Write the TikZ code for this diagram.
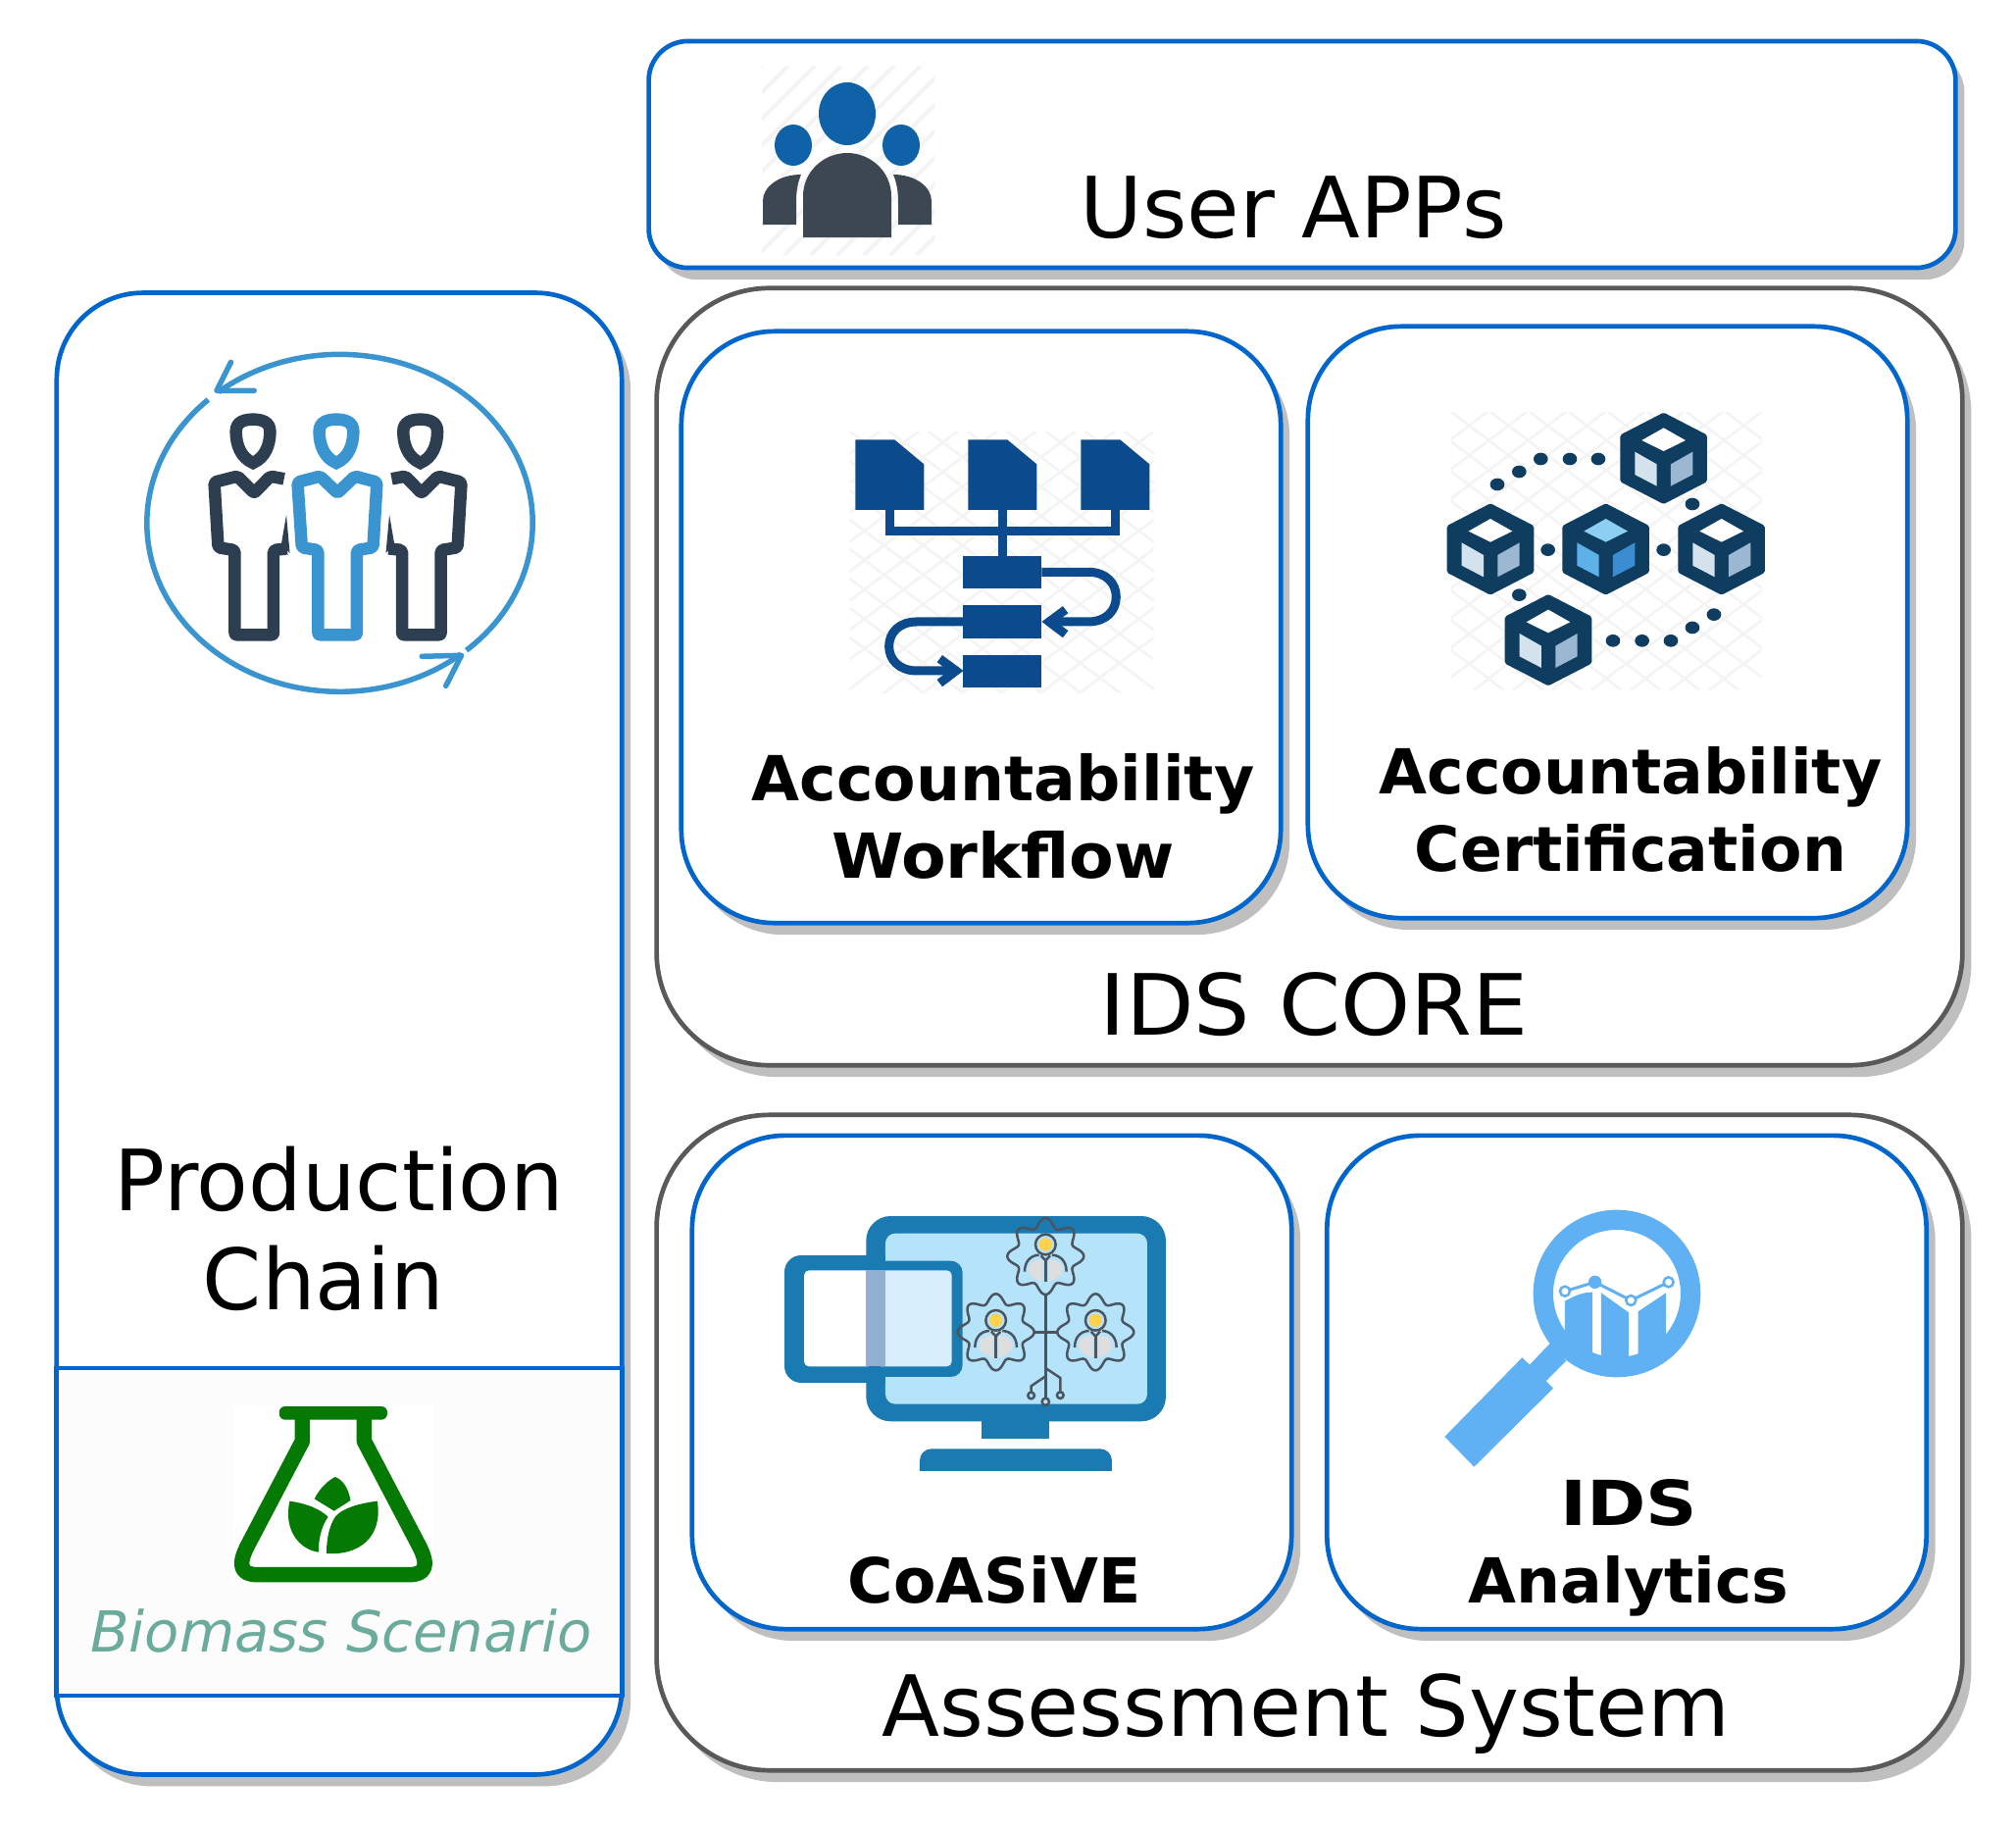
\documentclass[tikz,border=0pt]{standalone}
\usepackage{xcolor}
\usepackage{fontspec}
\setmainfont{DejaVu Sans}
\usepackage{tikz}
\usetikzlibrary{shadows}
\definecolor{boxblue}{HTML}{0066CC}
\definecolor{boxgray}{HTML}{595959}
\definecolor{shadowgray}{HTML}{BFBFBF}
\definecolor{panelwhite}{HTML}{FCFCFC}
\definecolor{scenariotext}{HTML}{6AAB9C}
\definecolor{persondark}{HTML}{2C3E50}
\definecolor{personblue}{HTML}{3A94D0}
\definecolor{flaskgreen}{HTML}{047A04}
\definecolor{userblue}{HTML}{0F62A8}
\definecolor{userdark}{HTML}{3D4752}
\definecolor{flowblue}{HTML}{0B4A8C}
\definecolor{cubedark}{HTML}{0F3D60}
\definecolor{cubepale}{HTML}{D3E2EC}
\definecolor{cubemid}{HTML}{9BB7D1}
\definecolor{cubesky}{HTML}{8CCFF3}
\definecolor{cubelight}{HTML}{5DB0E8}
\definecolor{cubedeep}{HTML}{3A8DD0}
\definecolor{screenblue}{HTML}{1A7AB2}
\definecolor{screenlight}{HTML}{B5E3FA}
\definecolor{windowpale}{HTML}{D8EEFC}
\definecolor{windowmid}{HTML}{92AFD2}
\definecolor{gearline}{HTML}{4A5560}
\definecolor{gearyellow}{HTML}{FFD24D}
\definecolor{geargray}{HTML}{DEDEDE}
\definecolor{lensblue}{HTML}{60B0F4}
\definecolor{hatchgray}{HTML}{F4F4F4}
\newcommand{\wider}[2]{{\addfontfeature{FakeStretch=#1}#2}}

\begin{document}
\begin{tikzpicture}[
  x=0.01cm, y=-0.01cm,
  bluebox/.style={draw=boxblue, line width=0.047cm, fill=white, inner sep=0pt,
                  drop shadow={shadow xshift=0.09cm, shadow yshift=-0.12cm, fill=shadowgray, opacity=1}},
  graybox/.style={bluebox, draw=boxgray},
  panel/.style={draw=boxblue, line width=0.047cm, fill=panelwhite, inner sep=0pt},
  bigtext/.style={anchor=base, inner sep=0pt, font=\fontsize{24.5}{28}\selectfont},
  boldtext/.style={anchor=base, inner sep=0pt, align=center, font=\fontsize{18}{22.4}\selectfont\bfseries},
  hatch/.style={draw=hatchgray, line width=0.025cm},
  personline/.style={line width=0.125cm, line join=round, rounded corners=0.02cm},
  flowline/.style={draw=flowblue, line width=0.09cm},
  gearstroke/.style={draw=gearline, line width=0.025cm},
]
\path[use as bounding box, fill=white] (0,0) rectangle (2056,1866);

\node[bluebox, rounded corners=0.4cm, minimum width=13.32cm, minimum height=2.31cm] (userbox) at (1328,157.5) {};
\node[graybox, rounded corners=1.15cm, minimum width=13.31cm, minimum height=7.92cm] (corebox) at (1335.5,690) {};
\node[bluebox, rounded corners=0.95cm, minimum width=6.11cm, minimum height=6.03cm] (workflowbox) at (1000.5,639.5) {};
\node[bluebox, rounded corners=0.95cm, minimum width=6.11cm, minimum height=6.03cm] (certbox) at (1639.5,634.5) {};
\node[graybox, rounded corners=1.15cm, minimum width=13.31cm, minimum height=6.68cm] (assessbox) at (1335.5,1471) {};
\node[bluebox, rounded corners=0.95cm, minimum width=6.11cm, minimum height=5.03cm] (coasivebox) at (1011.5,1409.5) {};
\node[bluebox, rounded corners=0.95cm, minimum width=6.11cm, minimum height=5.03cm] (analyticsbox) at (1659,1409.5) {};
\node[bluebox, rounded corners=0.88cm, minimum width=5.76cm, minimum height=15.1cm] (chainbox) at (346,1054) {};
\node[panel, minimum width=5.76cm, minimum height=3.34cm] (biomasspanel) at (346,1562) {};

\node[bigtext] (usertext) at (1319,242) {\wider{1.012}{User APPs}};
\node[bigtext] (coretext) at (1340,1055) {\wider{1.05}{IDS CORE}};
\node[bigtext] (assesstext) at (1332,1770) {Assessment System};
\node[bigtext] (chaintextA) at (346,1234) {Production};
\node[bigtext] (chaintextB) at (330,1335) {Chain};
\node[anchor=base, inner sep=0pt, text=scenariotext, font=\fontsize{16.4}{20}\selectfont\itshape] (biomasstext) at (348,1684) {Biomass Scenario};
\node[boldtext] (workflowtext) at (1023,895) {Accountability\\\wider{1.05}{Workflow}};
\node[boldtext] (certtext) at (1663,888) {Accountability\\Certification};
\node[boldtext] (coasivetext) at (1014,1634) {CoASiVE};
\node[boldtext] (analyticstext) at (1661,1634) {\wider{1.15}{IDS}\\Analytics};

\begin{scope}
  \clip (777,67) rectangle (953,260);
  \foreach \k in {0,...,13}
    \draw[hatch, line width=0.04cm] ({584+27*\k},260) -- ++(193,-193);
\end{scope}
\fill[userblue] (864,116) ellipse[x radius=29, y radius=32];
\fill[userblue] (809,148) ellipse[x radius=19, y radius=21];
\fill[userblue] (919,148) ellipse[x radius=19, y radius=21];
\fill[userdark] (819,242) -- (819,200) .. controls (819,175) and (840,156) .. (864,156)
  .. controls (888,156) and (909,175) .. (909,200) -- (909,242) -- cycle;
\fill[userdark] (778,229) -- (778,205) .. controls (778,190) and (795,178) .. (817,178)
  .. controls (812,190) and (812,200) .. (812,210) -- (812,229) -- cycle;
\fill[userdark] (950,229) -- (950,205) .. controls (950,190) and (933,178) .. (911,178)
  .. controls (916,190) and (916,200) .. (916,210) -- (916,229) -- cycle;

\begin{scope}[shift={(40,280)}, xscale=0.395, yscale=0.3333]
  \draw[personblue, line width=0.055cm] (776,760) ++(49:498 and 516) arc[start angle=49, end angle=-129, x radius=498, y radius=516];
  \draw[personblue, line width=0.055cm] (776,760) ++(51:498 and 516) arc[start angle=51, end angle=227, x radius=498, y radius=516];
  \draw[personblue, line width=0.055cm, line cap=round, line join=round] (495,268) -- (458,355) -- (555,355);
  \draw[personblue, line width=0.055cm, line cap=round, line join=round] (1050,1258) -- (1090,1165) -- (988,1168);
  \foreach \px/\pc in {0/persondark, 215/personblue, 432/persondark}
    \draw[\pc, line width=0.125cm] ({552+\px},576) .. controls ({520+\px},560) and ({508+\px},520) .. ({508+\px},480)
      .. controls ({508+\px},450) and ({530+\px},443) .. ({552+\px},443)
      .. controls ({574+\px},443) and ({596+\px},450) .. ({596+\px},480)
      .. controls ({596+\px},520) and ({584+\px},560) .. ({552+\px},576) -- cycle;
  \draw[persondark, personline] (632,625) -- (597,617) -- (555,668) -- (512,617) -- (452,635) -- (462,835) -- (505,843)
    -- (505,1102) -- (605,1102) -- (605,843) -- (640,838);
  \fill[persondark] (638,735) -- (647,852) -- (625,825) -- cycle;
  \draw[persondark, personline] (910,625) -- (945,617) -- (987,668) -- (1030,617) -- (1090,635) -- (1080,835) -- (1037,843)
    -- (1037,1102) -- (937,1102) -- (937,843) -- (902,838);
  \fill[persondark] (904,735) -- (895,852) -- (917,825) -- cycle;
  \draw[personblue, personline] (770,668) -- (725,617) -- (667,635) -- (678,835) -- (720,843) -- (720,1102)
    -- (820,1102) -- (820,843) -- (862,835) -- (872,635) -- (815,617) -- cycle;
\end{scope}

\begin{scope}[shift={(40,1370)}, xscale=0.408, yscale=0.3333]
  \fill[white] (483,190) rectangle (987,730);
  \fill[flaskgreen, rounded corners=0.06cm] (600,192) rectangle (870,233);
  \draw[flaskgreen, line width=0.155cm, line join=round] (658,225) -- (658,298) -- (520,620)
    .. controls (495,680) and (505,707) .. (545,707) -- (925,707)
    .. controls (965,707) and (975,680) .. (950,620) -- (812,298) -- (812,225);
  \fill[flaskgreen] (740,408) .. controls (765,420) and (775,455) .. (778,480) -- (737,512) -- (688,475)
    .. controls (700,445) and (720,420) .. (740,408) -- cycle;
  \fill[flaskgreen] (626,482) .. controls (670,490) and (700,505) .. (722,530)
    .. controls (705,560) and (698,600) .. (698,638) .. controls (650,630) and (610,570) .. (626,482) -- cycle;
  \fill[flaskgreen] (845,482) .. controls (790,490) and (745,510) .. (735,540)
    .. controls (722,570) and (718,610) .. (718,642) .. controls (800,650) and (860,590) .. (845,482) -- cycle;
\end{scope}

\begin{scope}[shift={(850,430)}, scale=0.3333]
  \begin{scope}
    \clip (50,30) rectangle (980,830);
    \foreach \k in {-7,...,8} {
      \draw[hatch] ({50+120*\k},30) -- ++(1080,810);
      \draw[hatch] ({980-120*\k},30) -- ++(-1080,810);
    }
  \end{scope}
  \foreach \dx in {0,345,690}
    \fill[flowblue] ({67+\dx},55) -- ({187+\dx},55) -- ({277+\dx},130) -- ({277+\dx},270) -- ({67+\dx},270) -- cycle;
  \draw[flowline] (172,270) -- (172,334) -- (862,334) -- (862,270);
  \draw[flowline] (517,270) -- (517,410);
  \foreach \vy in {410,562,713}
    \fill[flowblue] (397,\vy) rectangle (637,{\vy+100});
  \draw[flowline] (637,460) -- (780,460) .. controls (835,460) and (865,495) .. (865,536)
    .. controls (865,577) and (835,612) .. (780,612) -- (665,612);
  \draw[flowline] (710,575) -- (660,612) -- (710,650);
  \draw[flowline] (397,612) -- (255,612) .. controls (200,612) and (170,647) .. (170,687)
    .. controls (170,727) and (200,762) .. (255,762) -- (370,762);
  \draw[flowline] (325,725) -- (375,762) -- (325,800);
\end{scope}

\begin{scope}[shift={(1460,410)}, scale=0.3333]
  \begin{scope}
    \clip (60,30) rectangle (1010,880);
    \foreach \k in {-8,...,9} {
      \draw[hatch] ({60+120*\k},30) -- ++(1120,850);
      \draw[hatch] ({1010-120*\k},30) -- ++(-1120,850);
    }
  \end{scope}
  \foreach \dotx/\doty in {201/252, 268/213, 334/174, 423/174, 510/174, 798/312, 268/590, 356/452, 710/452, 864/650, 798/690, 732/730, 644/730, 555/730}
    \fill[cubedark] (\dotx,\doty) ellipse[x radius=22, y radius=19];
  \foreach \cx/\cy/\ctop/\cleft/\cright in {533/450/cubesky/cubelight/cubedeep, 180/450/white/cubepale/cubemid, 887/450/white/cubepale/cubemid, 710/172/white/cubepale/cubemid, 357/728/white/cubepale/cubemid} {
    \begin{scope}[shift={(\cx,\cy)}]
      \draw[cubedark, fill=cubedark, line width=0.06cm, line join=round] (0,-130) -- (124,-66) -- (124,66) -- (0,130) -- (-124,66) -- (-124,-66) -- cycle;
      \fill[\ctop] (0,-93) -- (67,-55) -- (0,-22) -- (-67,-55) -- cycle;
      \fill[\cleft] (-88,-20) -- (-21,18) -- (-21,85) -- (-88,50) -- cycle;
      \fill[\cright] (22,18) -- (89,-20) -- (89,50) -- (22,85) -- cycle;
    \end{scope}
  }
\end{scope}

\begin{scope}[shift={(780,1220)}, scale=0.3333]
  \fill[screenblue, rounded corners=0.25cm] (310,60) rectangle (1227,688);
  \fill[screenlight, rounded corners=0.1cm] (369,113) rectangle (1170,635);
  \fill[screenblue] (663,688) rectangle (870,740);
  \fill[screenblue] (474,840) [rounded corners=0.12cm] -- (474,772) -- (1062,772) [sharp corners] -- (1062,840) -- cycle;
  \fill[screenblue, rounded corners=0.12cm] (300,197) rectangle (605,552);
  \fill[screenblue, rounded corners=0.17cm] (60,180) rectangle (369,570);
  \fill[screenblue] (310,180) rectangle (369,570);
  \fill[white, rounded corners=0.05cm] (120,226) rectangle (330,520);
  \fill[windowpale, rounded corners=0.05cm] (340,226) rectangle (572,520);
  \fill[windowmid] (310,226) rectangle (369,520);
  \foreach \gx/\gy in {859/183, 707/415, 1012/415} {
    \begin{scope}[shift={(\gx,\gy)}]
      \draw[gearstroke] plot[domain=0:360, samples=145, smooth] ({(103+14*cos(8*\x))*cos(\x)},{(103+14*cos(8*\x))*sin(\x)}) -- cycle;
      \fill[geargray] (-9,10) .. controls (-35,12) and (-52,20) .. (-52,40) .. controls (-52,60) and (-30,72) .. (-9,78) -- cycle;
      \fill[geargray] (9,10) .. controls (35,12) and (52,20) .. (52,40) .. controls (52,60) and (30,72) .. (9,78) -- cycle;
      \draw[gearstroke] (-64,47) .. controls (-64,15) and (-45,-3) .. (-20,-4);
      \draw[gearstroke] (64,47) .. controls (64,15) and (45,-3) .. (20,-4);
      \draw[gearstroke] (-14,-2) -- (0,13) -- (14,-2);
      \draw[gearstroke] (0,13) -- (0,79);
      \draw[gearstroke] (0,-36) circle[radius=31];
      \fill[gearyellow] (0,-36) circle[radius=20];
    \end{scope}
  }
  \draw[gearstroke] (859,298) -- (859,616);
  \draw[gearstroke] (825,415) -- (893,415);
  \draw[gearstroke] (859,550) -- (815,580) -- (815,598);
  \draw[gearstroke] (859,525) -- (904,555) -- (904,597);
  \draw[gearstroke] (815,609) circle[radius=10];
  \draw[gearstroke] (904,608) circle[radius=10];
  \draw[gearstroke] (859,628) circle[radius=11];
\end{scope}

\begin{scope}[shift={(1450,1210)}, scale=0.3333]
  \fill[lensblue] (392,480) -- (330,545) -- (307,523) -- (70,765) -- (160,857) -- (402,617) -- (380,595) -- (442,533) -- cycle;
  \begin{scope}
    \clip (597,327) circle[radius=200];
    \fill[lensblue] (438,350) .. controls (470,332) and (495,323) .. (522,323) -- (522,540) -- (438,540) -- cycle;
    \fill[lensblue] (549,325) -- (633,385) -- (633,540) -- (549,540) -- cycle;
    \fill[lensblue] (662,382) -- (747,325) -- (747,540) -- (662,540) -- cycle;
  \end{scope}
  \fill[lensblue, even odd rule] (597,327) circle[radius=256] (597,327) circle[radius=195];
  \draw[lensblue, line width=0.03cm] (438,320) -- (530,292) -- (640,348) -- (755,292);
  \fill[lensblue] (530,292) circle[radius=20];
  \foreach \mx/\my in {438/320, 640/348, 755/292}
    \draw[lensblue, line width=0.025cm, fill=white] (\mx,\my) circle[radius=15];
\end{scope}
\end{tikzpicture}
\end{document}
